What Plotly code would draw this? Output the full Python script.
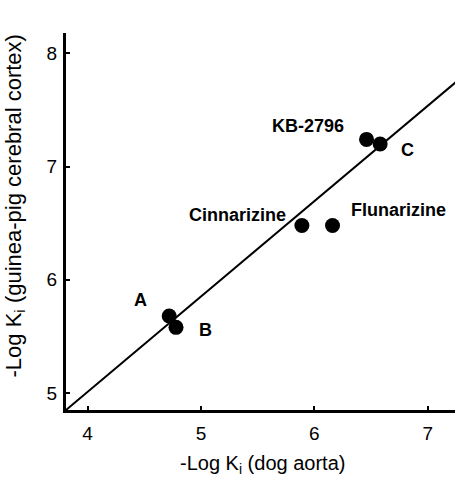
import plotly.graph_objects as go

# Data
drug_x = [4.72, 4.78, 5.89, 6.16, 6.46, 6.58]
drug_y = [5.68, 5.58, 6.48, 6.48, 7.24, 7.20]

label_text = ["A", "B", "Cinnarizine", "Flunarizine", "KB-2796", "C"]
label_x = [4.47, 5.04, 5.32, 6.74, 5.94, 6.82]
label_y = [5.82, 5.56, 6.575, 6.62, 7.36, 7.15]

line_x = [3.81, 7.30]
line_y = [4.85, 7.79]

x_ticks = [4, 5, 6, 7]
y_ticks = [5, 6, 7, 8]

fig = go.Figure()
fig.add_trace(go.Scatter(x=line_x, y=line_y, mode="lines",
                         line=dict(color="black", width=2), showlegend=False))
fig.add_trace(go.Scatter(x=drug_x, y=drug_y, mode="markers",
                         marker=dict(color="black", size=15), showlegend=False))

for t, x, y in zip(label_text, label_x, label_y):
    fig.add_annotation(x=x, y=y, text=t, showarrow=False,
                       font=dict(family="Liberation Sans", size=18, color="black", weight="bold"))

fig.add_annotation(xref="paper", yref="paper", x=0.504, y=-0.145,
                   xanchor="center", yanchor="middle",
                   text="-Log K<sub>i</sub> (dog aorta)", showarrow=False,
                   font=dict(family="Liberation Sans", size=20, color="black"))
fig.add_annotation(xref="paper", yref="paper", x=-0.131, y=0.54, textangle=-90,
                   xanchor="center", yanchor="middle",
                   text="-Log K<sub>i</sub> (guinea-pig cerebral cortex)", showarrow=False,
                   font=dict(family="Liberation Sans", size=22, color="black"))

axis_common = dict(showline=True, linecolor="black", linewidth=3, mirror=False,
                   showgrid=False, zeroline=False, ticks="inside", ticklen=4,
                   tickwidth=2, tickcolor="black",
                   tickfont=dict(family="Liberation Sans", size=19, color="black"))

fig.update_xaxes(range=[3.81, 7.24], tickvals=x_ticks, ticklabelstandoff=4, **axis_common)
fig.update_yaxes(range=[4.85, 8.18], tickvals=y_ticks, ticklabelstandoff=2, **axis_common)

fig.update_layout(width=455, height=478, margin=dict(l=66, r=0, t=33, b=68),
                  plot_bgcolor="white", paper_bgcolor="white")

fig.write_html("out.html")
